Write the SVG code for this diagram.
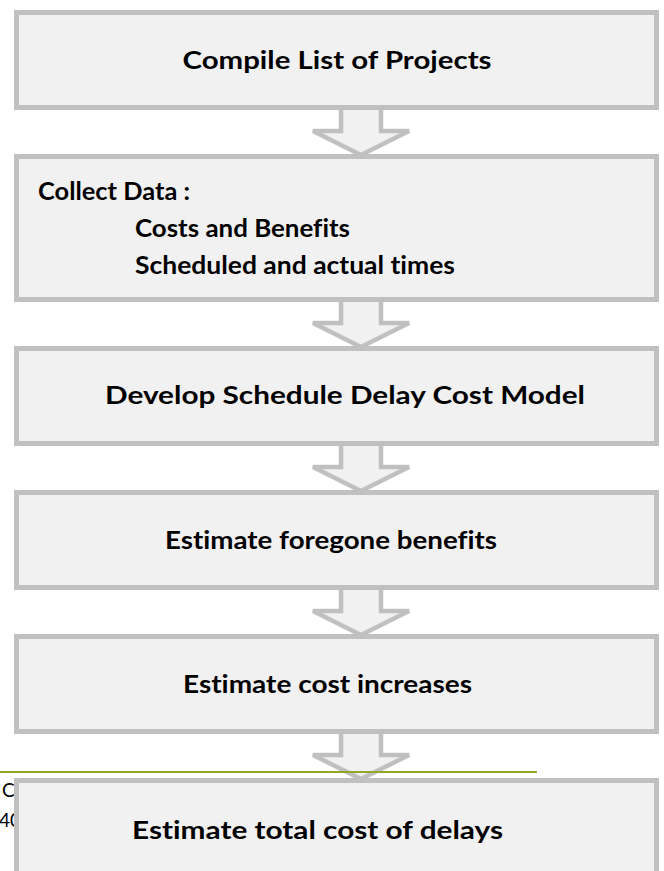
<svg xmlns="http://www.w3.org/2000/svg" width="664" height="871" viewBox="0 0 664 871">
  <style>
    .box { fill: #f1f1f1; stroke: #c0c0c0; stroke-width: 5; }
    .arrow { fill: #f1f1f1; stroke: #c0c0c0; stroke-width: 4.5; stroke-linejoin: miter; }
    .label { font-family: Lato, "Liberation Sans", sans-serif; font-weight: bold; font-size: 25px; fill: #000; font-variant-ligatures: none; }
    .foot { font-family: Lato, "Liberation Sans", sans-serif; font-size: 19px; fill: #000; }
  </style>
  <defs>
    <!-- hollow block arrow, top of shaft at y=0, tip at y=44 -->
    <path id="down" d="M 341 -4 L 341 21 L 313 21 L 361 45 L 409 21 L 381 21 L 381 -4 Z"/>
  </defs>
  <rect width="664" height="871" fill="#ffffff"/>

  <g id="connectors">
    <use href="#down" class="arrow" transform="translate(0,110)"/>
    <use href="#down" class="arrow" transform="translate(0,302)"/>
    <use href="#down" class="arrow" transform="translate(0,446)"/>
    <use href="#down" class="arrow" transform="translate(0,590)"/>
    <use href="#down" class="arrow" transform="translate(0,734)"/>
  </g>

  <!-- page footer rule and footer text partly hidden by the last box -->
  <g id="footer">
    <line x1="0" y1="772" x2="537" y2="772" stroke="#8ea829" stroke-width="1.8"/>
    <text class="foot" x="2" y="797">Co</text>
    <text class="foot" x="-1" y="827">40</text>
  </g>

  <g id="compile">
    <rect class="box" x="16.5" y="12.5" width="640" height="95"/>
    <text class="label" x="337" y="69" text-anchor="middle" textLength="309" lengthAdjust="spacingAndGlyphs">Compile List of Projects</text>
  </g>

  <g id="collect">
    <rect class="box" x="16.5" y="156.5" width="640" height="143"/>
    <text class="label" x="38" y="200" textLength="152" lengthAdjust="spacingAndGlyphs">Collect Data :</text>
    <text class="label" x="135" y="237" textLength="215" lengthAdjust="spacingAndGlyphs">Costs and Benefits</text>
    <text class="label" x="135" y="274" textLength="320" lengthAdjust="spacingAndGlyphs">Scheduled and actual times</text>
  </g>

  <g id="model">
    <rect class="box" x="16.5" y="348.5" width="640" height="95"/>
    <text class="label" x="345" y="404" text-anchor="middle" textLength="480" lengthAdjust="spacingAndGlyphs">Develop Schedule Delay Cost Model</text>
  </g>

  <g id="benefits">
    <rect class="box" x="16.5" y="492.5" width="640" height="95"/>
    <text class="label" x="331" y="549" text-anchor="middle" textLength="332" lengthAdjust="spacingAndGlyphs">Estimate foregone benefits</text>
  </g>

  <g id="increases">
    <rect class="box" x="16.5" y="636.5" width="640" height="95"/>
    <text class="label" x="327.5" y="693" text-anchor="middle" textLength="289" lengthAdjust="spacingAndGlyphs">Estimate cost increases</text>
  </g>

  <g id="total">
    <rect class="box" x="16.5" y="780.5" width="640" height="100"/>
    <text class="label" x="317.5" y="839" text-anchor="middle" textLength="371" lengthAdjust="spacingAndGlyphs">Estimate total cost of delays</text>
  </g>
</svg>
